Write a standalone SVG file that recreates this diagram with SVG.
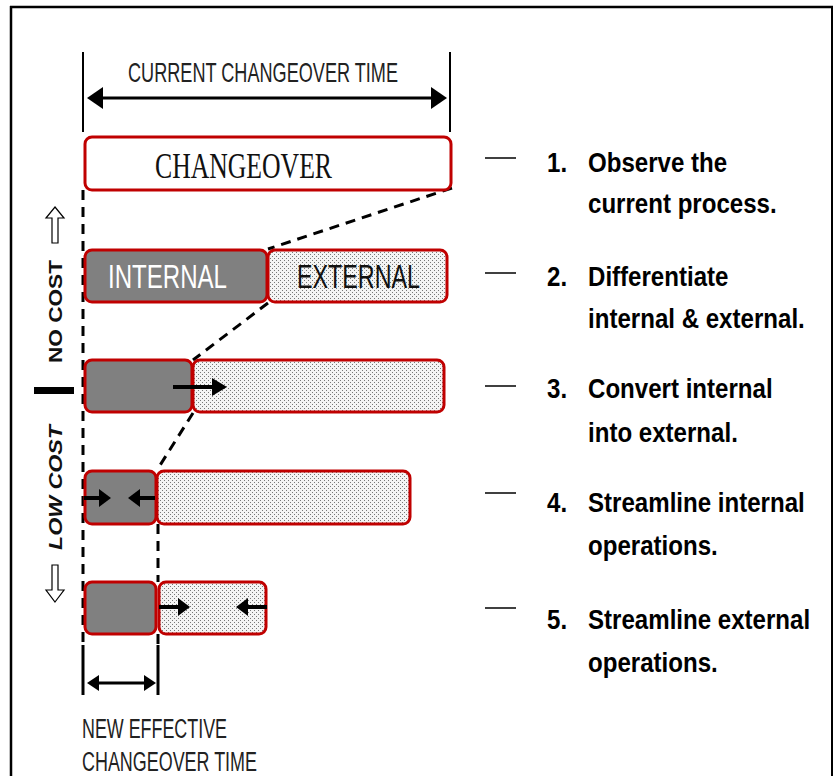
<svg xmlns="http://www.w3.org/2000/svg" width="833" height="776" viewBox="0 0 833 776">
<style>
.narrow{font-family:"Liberation Sans Narrow","Liberation Sans",Arial,sans-serif;}
.step{font-family:"Liberation Sans",Arial,sans-serif;font-weight:bold;font-size:28px;fill:#000;}
.box{stroke:#c00000;stroke-width:3;}
.int{fill:#808080;}
.ext{fill:url(#dots);}
.dash{stroke:#000;stroke-width:3;stroke-dasharray:10 7;fill:none;}
.solid{stroke:#000;fill:none;}
.head{fill:#000;}
.hollow{fill:#fff;stroke:#000;stroke-width:1.2;}
.tick{stroke:#000;stroke-width:1.5;}
</style>
<defs>
<pattern id="dots" width="4" height="4" patternUnits="userSpaceOnUse">
<rect width="4" height="4" fill="#f4f4f4"/>
<rect x="0" y="0" width="1" height="1" fill="#777"/>
<rect x="2" y="2" width="1" height="1" fill="#777"/>
</pattern>
</defs>
<rect width="833" height="776" fill="#fff"/>
<g id="frame">
<line x1="11" y1="6" x2="11" y2="776" stroke="#000" stroke-width="2.5"/>
<line x1="10" y1="7" x2="833" y2="7" stroke="#000" stroke-width="2.5"/>
<line x1="832" y1="6" x2="832" y2="776" stroke="#000" stroke-width="2"/>
</g>
<g id="connectors">
<line class="dash" x1="83" y1="190" x2="83" y2="645"/>
<line class="dash" x1="158" y1="524" x2="158" y2="582"/>
<line class="dash" x1="158" y1="634" x2="158" y2="645"/>
<line class="dash" x1="452" y1="188" x2="268" y2="249"/>
<line class="dash" x1="268" y1="303" x2="193" y2="360"/>
<line class="dash" x1="193" y1="413" x2="157" y2="470"/>
</g>
<g id="current-time">
<line class="solid" stroke-width="2" x1="83" y1="52" x2="83" y2="132"/>
<line class="solid" stroke-width="2" x1="450" y1="52" x2="450" y2="132"/>
<line class="solid" stroke-width="3" x1="100" y1="98" x2="434" y2="98"/>
<polygon class="head" points="87,98 103,87 103,109"/>
<polygon class="head" points="447,98 431,87 431,109"/>
<text class="narrow" x="128" y="82" font-size="28" fill="#222" textLength="270" lengthAdjust="spacingAndGlyphs">CURRENT CHANGEOVER TIME</text>
</g>
<g id="row1">
<rect class="box" x="85" y="137" width="366" height="53" rx="7" fill="#fff"/>
<text x="155" y="178" font-family="'Liberation Serif','Times New Roman',serif" font-size="35" fill="#111" textLength="177" lengthAdjust="spacingAndGlyphs">CHANGEOVER</text>
</g>
<g id="row2">
<rect class="box int" x="85" y="250" width="182" height="52" rx="7"/>
<rect class="box ext" x="268" y="250" width="179" height="52" rx="7"/>
<text class="narrow" x="108" y="288" font-size="34" fill="#fff" textLength="119" lengthAdjust="spacingAndGlyphs">INTERNAL</text>
<text class="narrow" x="297" y="288" font-size="34" fill="#111" textLength="123" lengthAdjust="spacingAndGlyphs">EXTERNAL</text>
</g>
<g id="row3">
<rect class="box int" x="85" y="360" width="107" height="52" rx="7"/>
<rect class="box ext" x="193" y="360" width="251" height="52" rx="7"/>
<line class="solid" stroke-width="4" x1="173" y1="387" x2="214" y2="387"/>
<polygon class="head" points="227,387 212,378 212,396"/>
</g>
<g id="row4">
<rect class="box int" x="85" y="471" width="71" height="53" rx="7"/>
<rect class="box ext" x="157" y="471" width="253" height="53" rx="7"/>
<line class="solid" stroke-width="4" x1="84" y1="498" x2="101" y2="498"/>
<polygon class="head" points="111,498 99,489 99,507"/>
<line class="solid" stroke-width="4" x1="139" y1="498" x2="155" y2="498"/>
<polygon class="head" points="128,498 140,489 140,507"/>
</g>
<g id="row5">
<rect class="box int" x="85" y="582" width="71" height="52" rx="7"/>
<rect class="box ext" x="159" y="582" width="107" height="52" rx="7"/>
<line class="solid" stroke-width="4" x1="159" y1="607" x2="180" y2="607"/>
<polygon class="head" points="190,607 178,598 178,616"/>
<line class="solid" stroke-width="4" x1="247" y1="607" x2="267" y2="607"/>
<polygon class="head" points="236,607 248,598 248,616"/>
</g>
<g id="new-time">
<line class="solid" stroke-width="3" x1="83" y1="645" x2="83" y2="695"/>
<line class="solid" stroke-width="3" x1="158" y1="645" x2="158" y2="695"/>
<line class="solid" stroke-width="3" x1="96" y1="683" x2="146" y2="683"/>
<polygon class="head" points="87,683 99,675 99,691"/>
<polygon class="head" points="156,683 144,675 144,691"/>
<text class="narrow" x="82" y="738" font-size="27" fill="#222" textLength="145" lengthAdjust="spacingAndGlyphs">NEW EFFECTIVE</text>
<text class="narrow" x="82" y="771" font-size="27" fill="#222" textLength="175" lengthAdjust="spacingAndGlyphs">CHANGEOVER TIME</text>
</g>
<g id="cost-axis">
<polygon class="hollow" points="55,207 64,218 58,218 58,243 52,243 52,218 46,218"/>
<text transform="translate(62,311.5) rotate(-90)" text-anchor="middle" font-family="'Liberation Sans',Arial,sans-serif" font-weight="bold" font-size="18" fill="#111" textLength="103" lengthAdjust="spacingAndGlyphs">NO COST</text>
<rect x="34" y="387" width="40" height="7" fill="#000"/>
<text transform="translate(62,487.5) rotate(-90)" text-anchor="middle" font-family="'Liberation Sans',Arial,sans-serif" font-weight="bold" font-style="italic" font-size="18" fill="#111" textLength="125" lengthAdjust="spacingAndGlyphs">LOW COST</text>
<polygon class="hollow" points="55,602 64,590 58,590 58,565 52,565 52,590 46,590"/>
</g>
<g id="step1">
<line class="tick" x1="485" y1="158" x2="516" y2="158"/>
<text class="step" transform="translate(547,172) scale(0.86,1)">1.</text>
<text class="step" transform="translate(588,172) scale(0.86,1)">Observe the</text>
<text class="step" transform="translate(588,213) scale(0.86,1)">current process.</text>
</g>
<g id="step2">
<line class="tick" x1="485" y1="273" x2="516" y2="273"/>
<text class="step" transform="translate(547,286) scale(0.86,1)">2.</text>
<text class="step" transform="translate(588,286) scale(0.86,1)">Differentiate</text>
<text class="step" transform="translate(588,328) scale(0.86,1)">internal &amp; external.</text>
</g>
<g id="step3">
<line class="tick" x1="485" y1="386" x2="516" y2="386"/>
<text class="step" transform="translate(547,398) scale(0.86,1)">3.</text>
<text class="step" transform="translate(588,398) scale(0.86,1)">Convert internal</text>
<text class="step" transform="translate(588,442) scale(0.86,1)">into external.</text>
</g>
<g id="step4">
<line class="tick" x1="485" y1="493" x2="516" y2="493"/>
<text class="step" transform="translate(547,512) scale(0.86,1)">4.</text>
<text class="step" transform="translate(588,512) scale(0.86,1)">Streamline internal</text>
<text class="step" transform="translate(588,555) scale(0.86,1)">operations.</text>
</g>
<g id="step5">
<line class="tick" x1="485" y1="608" x2="516" y2="608"/>
<text class="step" transform="translate(547,629) scale(0.86,1)">5.</text>
<text class="step" transform="translate(588,629) scale(0.86,1)">Streamline external</text>
<text class="step" transform="translate(588,672) scale(0.86,1)">operations.</text>
</g>
</svg>
